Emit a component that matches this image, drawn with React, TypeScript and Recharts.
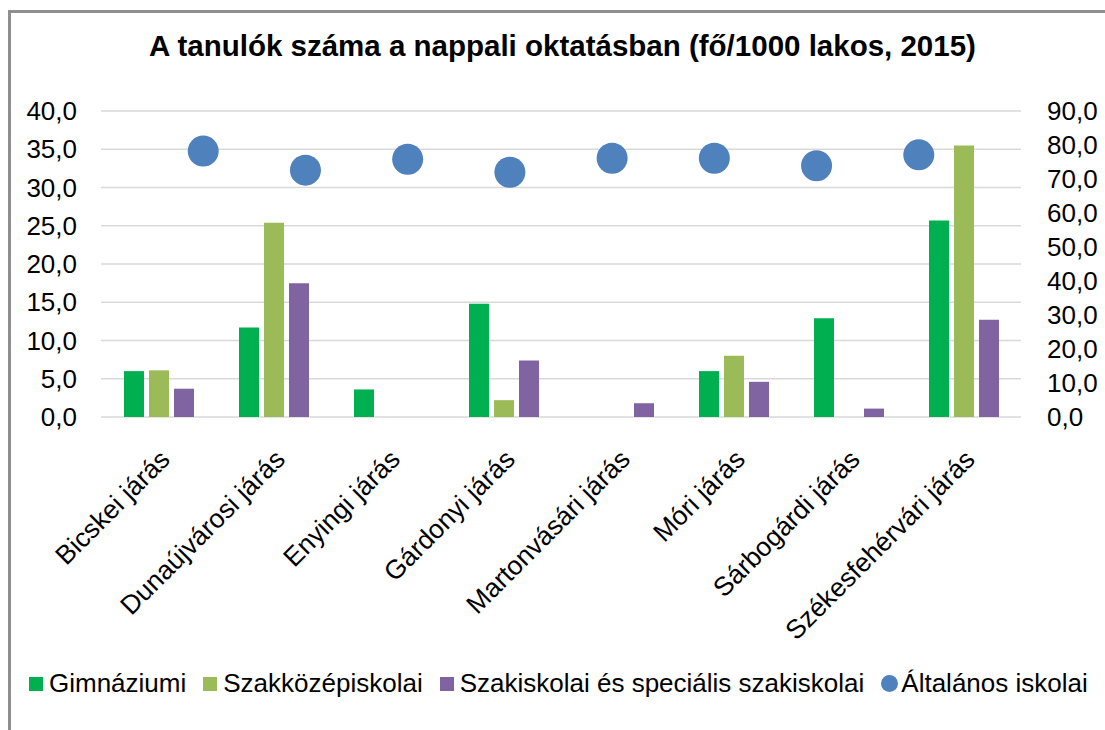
import { Bar, CartesianGrid, ComposedChart, Scatter, XAxis, YAxis } from "recharts";

const categories = [
  "Bicskei járás",
  "Dunaújvárosi járás",
  "Enyingi járás",
  "Gárdonyi járás",
  "Martonvásári járás",
  "Móri járás",
  "Sárbogárdi járás",
  "Székesfehérvári járás",
];
const gimnaziumi = [6.0, 11.7, 3.6, 14.8, 0, 6.0, 12.9, 25.7];
const szakkozep = [6.1, 25.4, 0, 2.2, 0, 8.0, 0, 35.5];
const szakiskolai = [3.7, 17.5, 0, 7.4, 1.8, 4.6, 1.1, 12.7];
const altalanos = [78.2, 72.6, 75.8, 72.0, 76.1, 76.1, 73.9, 77.1];
const leftTicks = [0, 5, 10, 15, 20, 25, 30, 35, 40];
const rightTicks = [0, 10, 20, 30, 40, 50, 60, 70, 80, 90];

const series = [
  { key: "gimn", name: "Gimnáziumi", color: "#00b050" },
  { key: "szakkoz", name: "Szakközépiskolai", color: "#9bbb59" },
  { key: "szakisk", name: "Szakiskolai és speciális szakiskolai", color: "#8064a2" },
];
const dotColor = "#4f81bd";

const data = categories.map((name, i) => ({
  name,
  pos: i + 1,
  gimn: gimnaziumi[i],
  szakkoz: szakkozep[i],
  szakisk: szakiskolai[i],
  alt: altalanos[i],
}));

const font = "'Liberation Sans', Arial, sans-serif";
const fmt = (v: number) => v.toFixed(1).replace(".", ",");

function CategoryTick({ x, payload }: any) {
  const ax = x + 13;
  const ay = 417 + 44;
  return (
    <text
      x={ax}
      y={ay}
      textAnchor="end"
      transform={`rotate(-45 ${ax} ${ay})`}
      fontSize={26.5}
      fontFamily={font}
      fill="#000"
    >
      {payload.value}
    </text>
  );
}

export default function App() {
  return (
    <div
      style={{
        position: "absolute",
        left: 0,
        top: 0,
        width: 1105,
        height: 730,
        overflow: "hidden",
        background: "#fff",
        fontFamily: font,
      }}
    >
      <div
        style={{
          position: "absolute",
          left: 8,
          top: 10,
          width: 1200,
          height: 800,
          border: "3px solid #8f8f8f",
        }}
      />
      <div
        style={{
          position: "absolute",
          left: 0,
          width: 1125,
          top: 29,
          textAlign: "center",
          fontSize: 29.5,
          fontWeight: "bold",
          color: "#000",
        }}
      >
        A tanulók száma a nappali oktatásban (fő/1000 lakos, 2015)
      </div>

      <div style={{ position: "absolute", left: 0, top: 0 }}>
        <ComposedChart
          width={1105}
          height={730}
          data={data}
          margin={{ top: 111, right: 0, bottom: 0, left: 0 }}
          barSize={20}
          barGap={5}
        >
          <CartesianGrid yAxisId="left" vertical={false} stroke="#d9d9d9" strokeWidth={1.5} />
          <XAxis
            dataKey="name"
            interval={0}
            axisLine={false}
            tickLine={false}
            tickSize={0}
            height={313}
            tick={<CategoryTick />}
          />
          <XAxis xAxisId="dot" type="number" dataKey="pos" domain={[0, 9]} hide />
          <YAxis
            yAxisId="left"
            domain={[0, 40]}
            ticks={leftTicks}
            interval={0}
            width={101}
            axisLine={false}
            tickLine={false}
            tickSize={0}
            tickMargin={24}
            tickFormatter={fmt}
            tick={{ fontSize: 26, fill: "#000", fontFamily: font }}
          />
          <YAxis
            yAxisId="right"
            orientation="right"
            domain={[0, 90]}
            ticks={rightTicks}
            interval={0}
            width={84}
            axisLine={false}
            tickLine={false}
            tickSize={0}
            tickMargin={26}
            tickFormatter={fmt}
            tick={{ fontSize: 26, fill: "#000", fontFamily: font, textAnchor: "start" }}
          />
          {series.map((s) => (
            <Bar key={s.key} yAxisId="left" dataKey={s.key} name={s.name} fill={s.color} isAnimationActive={false} />
          ))}
          <Scatter
            xAxisId="dot"
            yAxisId="right"
            dataKey="alt"
            name="Általános iskolai"
            fill={dotColor}
            isAnimationActive={false}
            shape={(p: any) => <circle cx={p.cx} cy={p.cy} r={15.5} fill={dotColor} />}
          />
        </ComposedChart>
      </div>

      <div
        style={{
          position: "absolute",
          left: 29,
          top: 668,
          display: "flex",
          alignItems: "center",
          whiteSpace: "nowrap",
          fontSize: 26,
          color: "#000",
        }}
      >
        {series.map((s) => (
          <span key={s.key} style={{ display: "flex", alignItems: "center", marginRight: 17 }}>
            <span style={{ width: 14, height: 14, background: s.color, marginRight: 6 }} />
            {s.name}
          </span>
        ))}
        <span style={{ display: "flex", alignItems: "center" }}>
          <span style={{ width: 17, height: 17, borderRadius: "50%", background: dotColor, marginRight: 3 }} />
          Általános iskolai
        </span>
      </div>
    </div>
  );
}
